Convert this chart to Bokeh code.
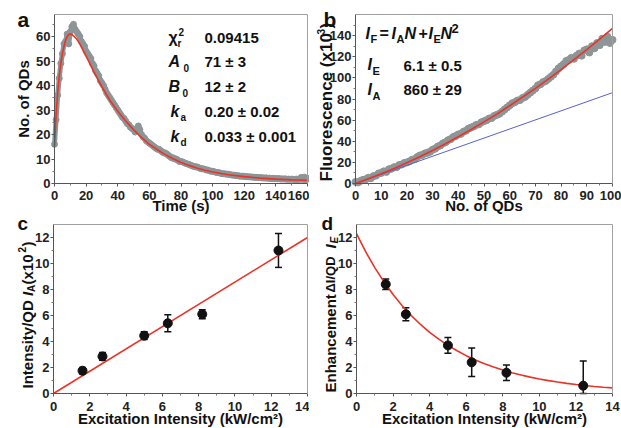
from bokeh.plotting import figure
from bokeh.models import (Range1d, Label, FixedTicker, LinearAxis, ColumnDataSource,
                          Whisker, TeeHead)
from bokeh.layouts import row, column
from bokeh.embed import file_html
from bokeh.resources import INLINE

# ---------------- data ----------------
# panel a: number of QDs vs time
time_s = list(range(0, 161))
qd_counts = [16, 26, 36, 43, 49, 53, 57, 58, 61, 57, 62, 64, 65, 63, 62, 61, 60, 58, 57, 56,
             54, 53, 52, 51, 49, 48, 46, 45, 44, 42, 41, 40, 38.5, 37, 36, 35, 34, 33, 32, 31,
             30, 29, 28, 27, 26.5, 25.5, 24.5, 24, 23, 22.5, 22, 21, 22, 23.5, 22, 20, 19, 18.5, 17.5, 17,
             16.5, 16, 15.5, 15, 14.5, 14, 14, 13.5, 13, 12.5, 12.5, 12, 11.5, 11, 10.5, 10.5, 10, 10, 9.5, 9,
             9, 8.8, 8.5, 8.2, 8, 7.8, 7.5, 7.2, 7, 6.8, 6.8, 6.5, 6.2, 6, 6, 5.8, 5.5, 5.5, 5.2, 5,
             5, 4.8, 4.6, 4.5, 4.4, 4.2, 4, 4, 3.9, 3.8, 3.8, 3.6, 3.5, 3.4, 3.4, 3.2, 3.2, 3, 3, 3,
             2.9, 2.8, 2.8, 2.7, 2.7, 2.6, 2.6, 2.5, 2.5, 2.4, 2.4, 2.3, 2.3, 2.2, 2.3, 2.1, 2.2, 2.0, 2.1, 2.0,
             2.0, 1.9, 2.0, 1.8, 1.9, 1.8, 1.9, 1.7, 1.8, 1.7, 1.8, 1.7, 1.6, 1.8, 1.6, 1.7, 2.5, 1.6, 2.6, 1.5,
             2.2]
fit_a_t = [0, 1, 2, 3, 4, 5, 6, 7, 8, 9, 10, 11, 12, 14, 16, 18, 20, 25, 30, 35, 40, 45, 50, 55,
           60, 65, 70, 75, 80, 85, 90, 95, 100, 110, 120, 130, 140, 150, 160]
fit_a_n = [15, 28, 37, 44, 49, 53, 56, 58.5, 60, 60.8, 61, 60.8, 60.3, 59, 57, 54.5, 52, 45.5, 39.5, 34,
           29.5, 25.5, 22, 18.8, 16, 13.8, 11.8, 10.1, 8.6, 7.4, 6.3, 5.4, 4.7, 3.6, 2.8, 2.2, 1.8, 1.5, 1.3]

# panel b: fluorescence (x10^3) vs number of QDs
n_qds = list(range(0, 101))
fluor = [1.5, 1, 2.5, 3.5, 4, 5.5, 5, 7, 7.5, 9.5, 10, 11.5, 11, 13.5, 14, 15.5, 15.5, 17.5, 18, 19.5,
         20, 21, 22.5, 23, 25, 26.5, 27, 28.5, 29, 30, 32, 33, 35, 36, 38, 39, 41, 42, 44, 45,
         46.5, 47, 49, 50, 52, 53, 54, 55.5, 56, 58, 59, 60, 61.5, 62, 64, 65, 66, 68, 70, 72,
         74, 76, 77, 78.5, 79, 81, 82, 84, 86, 88, 90, 93, 94, 96, 97, 99, 101, 103, 106, 109,
         111, 113, 116, 117, 119, 118, 121, 123, 121, 126, 127, 124, 130, 128, 133, 131, 137, 134, 139, 133,
         136]
fit_b_n = [0, 5, 10, 15, 20, 25, 30, 35, 40, 45, 50, 55, 60, 65, 70, 75, 80, 85, 90, 95, 100]
fit_b_f = [0, 4.45, 9.2, 14.3, 19.6, 25.3, 31.3, 37.6, 44.2, 51.1, 58.3, 65.7, 73.6, 81.7, 90.1,
           98.8, 107.8, 117.2, 126.7, 136.7, 146.8]
lin_b_n = [0, 100]
lin_b_f = [0, 86]

# panels c / d: vs excitation intensity (kW/cm^2)
exc = [1.6, 2.7, 5.0, 6.3, 8.2, 12.4]
ia = [1.75, 2.85, 4.45, 5.4, 6.1, 11.0]
ia_err = [0.25, 0.3, 0.3, 0.65, 0.35, 1.3]
fit_c_x = [0, 14]
fit_c_y = [0, 12]
ie = [8.4, 6.1, 3.7, 2.4, 1.6, 0.6]
ie_err = [0.4, 0.5, 0.6, 1.1, 0.6, 1.9]
fit_d_x = [0, 0.5, 1, 1.5, 2, 2.5, 3, 3.5, 4, 4.5, 5, 5.5, 6, 6.5, 7, 7.5, 8, 8.5, 9, 9.5,
           10, 10.5, 11, 11.5, 12, 12.5, 13, 13.5, 14]
fit_d_y = [12.3, 10.91, 9.68, 8.59, 7.61, 6.75, 5.99, 5.31, 4.71, 4.18, 3.70, 3.29, 2.91, 2.58,
           2.29, 2.03, 1.80, 1.60, 1.42, 1.26, 1.12, 0.99, 0.88, 0.78, 0.69, 0.61, 0.54, 0.48, 0.43]

# tick positions
a_xt, a_xm = list(range(0, 161, 20)), list(range(10, 160, 20))
a_yt, a_ym = list(range(0, 61, 10)), list(range(5, 66, 10))
b_xt, b_xm = list(range(0, 101, 10)), list(range(5, 100, 10))
b_yt, b_ym = list(range(0, 141, 20)), list(range(10, 151, 20))
cd_xt, cd_xm = list(range(0, 15, 2)), list(range(1, 14, 2))
cd_yt, cd_ym = list(range(0, 13, 2)), list(range(1, 12, 2))

FONT = "Liberation Sans"
GRAY = "#8d9597"
RED = "#ea3327"
BLUE = "#5560d0"
INK = "#111111"
FIX_H = 0.4    # measured baseline offset of horizontal labels, in font sizes
FIX_V = 0.15   # same for rotated labels


class Panel:
    """Figure whose frame is the whole canvas; the plot box is drawn by fixed axes."""

    def __init__(self, w, h, box, xr, yr, xt, xm, yt, ym, xstand):
        left, right, top, bottom = box
        sx = (xr[1] - xr[0]) / (right - left)
        sy = (yr[1] - yr[0]) / (bottom - top)
        self.w, self.h, self.box = w, h, box
        p = figure(width=w, height=h, output_backend="svg", toolbar_location=None,
                   x_range=Range1d(xr[0] - left * sx, xr[1] + (w - right) * sx),
                   y_range=Range1d(yr[0] - (h - bottom) * sy, yr[1] + top * sy),
                   min_border=0, min_border_left=0, min_border_right=0,
                   min_border_top=0, min_border_bottom=0)
        p.title.visible = False
        p.outline_line_color = None
        p.xgrid.visible = False
        p.ygrid.visible = False
        xa, ya = p.xaxis[0], p.yaxis[0]
        xa.fixed_location = yr[0]
        ya.fixed_location = xr[0]
        xa.bounds = xr
        ya.bounds = yr
        xa.ticker = FixedTicker(ticks=xt, minor_ticks=xm)
        ya.ticker = FixedTicker(ticks=yt, minor_ticks=ym)
        for ax in (xa, ya):
            ax.axis_line_color = "#555555"
            ax.major_tick_line_color = "#555555"
            ax.minor_tick_line_color = "#777777"
            ax.major_tick_out = 3
            ax.major_tick_in = 0
            ax.minor_tick_out = 2
            ax.minor_tick_in = 0
            ax.major_label_text_font = FONT
            ax.major_label_text_font_style = "bold"
            ax.major_label_text_font_size = "13px"
            ax.major_label_text_color = "#222222"
        xa.major_label_standoff = xstand
        ya.major_label_standoff = 1
        top_ax = LinearAxis(fixed_location=yr[1], bounds=xr, ticker=FixedTicker(ticks=[]),
                            axis_line_color="#a0a0a0", major_tick_out=0, minor_tick_out=0,
                            major_label_text_font_size="0px")
        right_ax = LinearAxis(fixed_location=xr[1], bounds=yr, ticker=FixedTicker(ticks=[]),
                              axis_line_color="#a0a0a0", major_tick_out=0, minor_tick_out=0,
                              major_label_text_font_size="0px")
        p.add_layout(top_ax, "above")
        p.add_layout(right_ax, "right")
        self.p = p

    def lab(self, dx, dy, text, size=15, style="bold", angle=0, align="left"):
        left, right, top, bottom = self.box
        if angle:
            dx -= FIX_V * size
        else:
            dy += FIX_H * size
        self.p.add_layout(Label(x=left + dx, y=(self.h - bottom) + dy,
                                x_units="screen", y_units="screen", text=text,
                                text_font=FONT, text_font_size=f"{size}px",
                                text_font_style=style, angle=angle, text_align=align,
                                text_baseline="alphabetic", text_color=INK))


ANG = 1.5707963

# ---------------- panel a ----------------
A = Panel(309, 214, (54, 307, 14, 183), (0, 160), (0, 69), a_xt, a_xm, a_yt, a_ym, 4)
pa = A.p
pa.line(time_s, qd_counts, line_color=GRAY, line_width=5)
pa.scatter(time_s, qd_counts, size=6, color=GRAY)
pa.line(fit_a_t, fit_a_n, line_color=RED, line_width=1.6)
A.lab(126.5, -27.5, "Time (s)", align="center")
A.lab(-28.5, 84.5, "No. of QDs", angle=ANG, align="center")
A.lab(-37, 156, "a", size=21)
rows_y = [140, 116, 91, 66, 41]
A.lab(114, rows_y[0], "\u03c7", size=16)
A.lab(123, rows_y[0] - 4, "r", size=10)
A.lab(124, rows_y[0] + 8, "2", size=10)
A.lab(114, rows_y[1], "A", size=16, style="bold italic")
A.lab(129, rows_y[1] - 4, "0", size=10)
A.lab(114, rows_y[2], "B", size=16, style="bold italic")
A.lab(128, rows_y[2] - 4, "0", size=10)
A.lab(116, rows_y[3], "k", size=16, style="bold italic")
A.lab(126, rows_y[3] - 4, "a", size=10)
A.lab(116, rows_y[4], "k", size=16, style="bold italic")
A.lab(126, rows_y[4] - 4, "d", size=10)
vals = ["0.09415", "71 \u00b1 3", "12 \u00b1 2", "0.20 \u00b1 0.02", "0.033 \u00b1 0.001"]
for v, yy in zip(vals, rows_y):
    A.lab(150, yy, v, size=15)

# ---------------- panel b ----------------
B = Panel(312, 214, (46, 303, 14, 183), (0, 100), (0, 160), b_xt, b_xm, b_yt, b_ym, 4)
pb = B.p
pb.line(n_qds, fluor, line_color=GRAY, line_width=4)
pb.scatter(n_qds, fluor, size=7, color=GRAY)
pb.line(lin_b_n, lin_b_f, line_color=BLUE, line_width=1)
pb.line(fit_b_n, fit_b_f, line_color=RED, line_width=1.6)
B.lab(128.5, -27.5, "No. of QDs", align="center")
B.lab(-26.5, 2, "Fluorescence (x10", size=17, angle=ANG)
B.lab(-33, 149, "3", size=10, angle=ANG)
B.lab(-26.5, 155, ")", size=17, angle=ANG)
B.lab(-32, 156, "b", size=21)
# I_F = I_A N + I_E N^2
B.lab(10, 144, "I", size=16, style="bold italic")
B.lab(15, 140, "F", size=11)
B.lab(24, 144, "=", size=16)
B.lab(36, 144, "I", size=16, style="bold italic")
B.lab(41, 140, "A", size=11)
B.lab(49, 144, "N", size=16, style="bold italic")
B.lab(63, 144, "+", size=16)
B.lab(73, 144, "I", size=16, style="bold italic")
B.lab(78, 140, "E", size=11)
B.lab(85, 144, "N", size=16, style="bold italic")
B.lab(96, 150, "2", size=13)
B.lab(12, 113, "I", size=16, style="bold italic")
B.lab(17, 108, "E", size=11)
B.lab(48, 112, "6.1 \u00b1 0.5", size=15)
B.lab(12, 88, "I", size=16, style="bold italic")
B.lab(17, 83, "A", size=11)
B.lab(48, 88, "860 \u00b1 29", size=15)

# ---------------- panel c ----------------
C = Panel(309, 214, (53, 307, 10, 179), (0, 14), (0, 13), cd_xt, cd_xm, cd_yt, cd_ym, 5)
pc = C.p
pc.line(fit_c_x, fit_c_y, line_color=RED, line_width=1.6)
src_c = ColumnDataSource(dict(x=exc, y=ia,
                              lo=[max(0, a - b) for a, b in zip(ia, ia_err)],
                              hi=[a + b for a, b in zip(ia, ia_err)]))
pc.add_layout(Whisker(base="x", upper="hi", lower="lo", source=src_c, dimension="height",
                      line_color=INK, line_width=1.5,
                      upper_head=TeeHead(size=7, line_color=INK, line_width=1.5),
                      lower_head=TeeHead(size=7, line_color=INK, line_width=1.5)))
pc.scatter("x", "y", source=src_c, size=9, color=INK)
C.lab(127, -31, "Excitation Intensity (kW/cm\u00b2)", size=15, align="center")
C.lab(-36, 162, "c", size=19)
C.lab(-24, 5, "Intensity/QD ", angle=ANG)
C.lab(-24, 97.5, "I", style="bold italic", angle=ANG)
C.lab(-20.5, 101.5, "A", size=10, angle=ANG)
C.lab(-24, 109, " (x10", angle=ANG)
C.lab(-30, 141, "2", size=10, angle=ANG)
C.lab(-24, 147, ")", angle=ANG)

# ---------------- panel d ----------------
D = Panel(312, 214, (47, 303, 10, 179), (0, 14), (0, 13), cd_xt, cd_xm, cd_yt, cd_ym, 5)
pd_ = D.p
pd_.line(fit_d_x, fit_d_y, line_color=RED, line_width=1.6)
src_d = ColumnDataSource(dict(x=exc, y=ie,
                              lo=[max(0, a - b) for a, b in zip(ie, ie_err)],
                              hi=[a + b for a, b in zip(ie, ie_err)]))
pd_.add_layout(Whisker(base="x", upper="hi", lower="lo", source=src_d, dimension="height",
                       line_color=INK, line_width=1.5,
                       upper_head=TeeHead(size=7, line_color=INK, line_width=1.5),
                       lower_head=TeeHead(size=7, line_color=INK, line_width=1.5)))
pd_.scatter("x", "y", source=src_d, size=9, color=INK)
D.lab(128, -31, "Excitation Intensity (kW/cm\u00b2)", size=15, align="center")
D.lab(-35, 162, "d", size=19)
D.lab(-24, 1, "Enhancement ", angle=ANG)
D.lab(-24, 101, "\u0394I/QD", size=13, angle=ANG)
D.lab(-24, 145, "I", style="bold italic", angle=ANG)
D.lab(-20.5, 150, "E", size=10, style="bold italic", angle=ANG)

layout = column(row(pa, pb), row(pc, pd_))
open("out.html", "w").write(file_html(layout, INLINE))
